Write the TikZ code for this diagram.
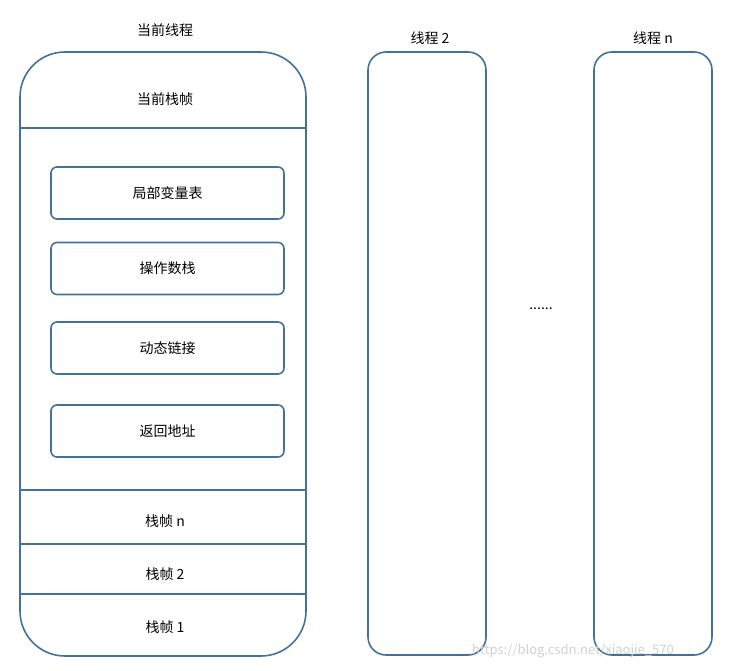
\documentclass[tikz,border=0pt]{standalone}
\usepackage{fontspec}
\setmainfont{Noto Sans CJK SC}
\begin{document}
\begin{tikzpicture}[x=1pt,y=-1pt,
  bl/.style={draw=frame,line width=1.6pt},
  lbl/.style={font=\fontsize{14}{16}\selectfont,inner sep=0pt},
  inner/.style={bl,rounded corners=6pt,minimum width=233pt,minimum height=52pt,lbl}]
\definecolor{frame}{HTML}{41719C}
\useasboundingbox (0,0) rectangle (749,671);
\draw[bl,rounded corners=45pt] (20,52) rectangle (306,656);
\foreach \y in {128,490,544,594} \draw[bl] (20,\y) -- (306,\y);
\draw[bl,rounded corners=18pt] (368,52) rectangle (486,655);
\draw[bl,rounded corners=18pt] (594,52) rectangle (712,655);
\node[lbl] (t0) at (165,30) {当前线程};
\node[lbl] (t2) at (430,38) {线程 2};
\node[lbl] (tn) at (653,38) {线程 n};
\node[lbl] (cf) at (165,99) {当前栈帧};
\node[inner] (a) at (167.5,193) {局部变量表};
\node[inner] (b) at (167.5,268.5) {操作数栈};
\node[inner] (c) at (167.5,348) {动态链接};
\node[inner] (d) at (167.5,431) {返回地址};
\node[lbl] (fn) at (165,521) {栈帧 n};
\node[lbl] (f2) at (165,574) {栈帧 2};
\node[lbl] (f1) at (165,627) {栈帧 1};
\node[lbl] (dots) at (541,309) {......};
\node[inner sep=0pt,text=black!18,font=\fontsize{13}{15}\selectfont] (wm) at (573,651) {https://blog.csdn.net/xiaojie\_570};
\end{tikzpicture}
\end{document}
